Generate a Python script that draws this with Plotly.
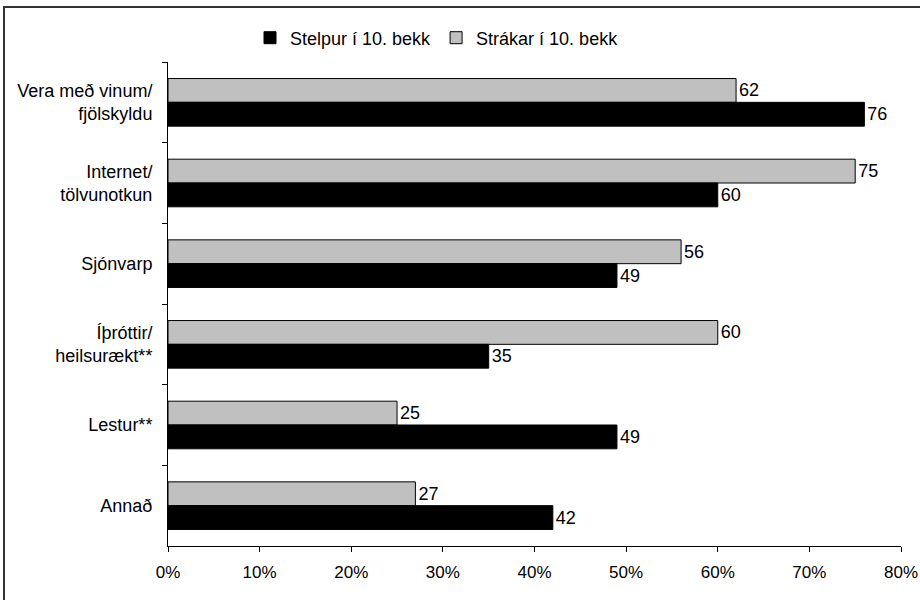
import plotly.graph_objects as go

# Survey categories (top to bottom) and percentages for each group
categories = [
    "Vera með vinum/<br>fjölskyldu",
    "Internet/<br>tölvunotkun",
    "Sjónvarp",
    "Íþróttir/<br>heilsurækt**",
    "Lestur**",
    "Annað",
]
strakar = [62, 75, 56, 60, 25, 27]   # Strákar í 10. bekk
stelpur = [76, 60, 49, 35, 49, 42]   # Stelpur í 10. bekk
x_ticks = [0, 10, 20, 30, 40, 50, 60, 70, 80]
x_tick_labels = [f"{v}%" for v in x_ticks]

FONT = "Liberation Sans, Arial, sans-serif"
FS = 18
W, H = 920, 600
ML, MR, MT, MB = 168, 19, 62, 54

fig = go.Figure()
fig.add_trace(go.Bar(
    name="Strákar í 10. bekk", y=categories, x=strakar, orientation="h",
    marker=dict(color="#C0C0C0", line=dict(color="#000000", width=1)),
    text=strakar, textposition="outside", cliponaxis=False, constraintext="none",
    textfont=dict(size=FS, color="#000000", family=FONT),
    legendrank=2,
))
fig.add_trace(go.Bar(
    name="Stelpur í 10. bekk", y=categories, x=stelpur, orientation="h",
    marker=dict(color="#000000", line=dict(color="#000000", width=1)),
    text=stelpur, textposition="outside", cliponaxis=False, constraintext="none",
    textfont=dict(size=FS, color="#000000", family=FONT),
    legendrank=1,
))

pw = W - ML - MR
ph = H - MT - MB
# outer frame of the chart area (right and bottom edges run past the page)
fig.add_shape(
    type="rect", xref="paper", yref="paper",
    x0=(4 - ML) / pw, x1=2.0,
    y0=-1.0, y1=1 + (MT - 7) / ph,
    line=dict(color="#333333", width=2), fillcolor="rgba(0,0,0,0)", layer="above",
)

fig.update_layout(
    width=W, height=H,
    margin=dict(l=ML, r=MR, t=MT, b=MB, autoexpand=False),
    paper_bgcolor="#FFFFFF", plot_bgcolor="#FFFFFF",
    font=dict(family=FONT, size=FS, color="#000000"),
    barmode="group", bargap=0.41, bargroupgap=0,
    showlegend=True,
    legend=dict(
        orientation="h", xref="container", yref="container",
        x=0.475, xanchor="center", y=1 - 38 / H, yanchor="middle",
        font=dict(size=FS, family=FONT),
        bgcolor="rgba(0,0,0,0)",
    ),
    xaxis=dict(
        range=[0, 80], tickvals=x_ticks, ticktext=x_tick_labels,
        showgrid=False, zeroline=False, showline=True, linecolor="#000000", linewidth=1,
        ticks="outside", ticklen=5, tickcolor="#000000",
        tickfont=dict(size=17, family=FONT), ticklabelstandoff=6,
        ticklabeloverflow="allow", automargin=False,
    ),
    yaxis=dict(
        categoryorder="array", categoryarray=categories, autorange="reversed",
        showgrid=False, zeroline=False, showline=True, linecolor="#000000", linewidth=1,
        ticks="outside", ticklen=5, tickcolor="#000000", tickson="boundaries",
        tickfont=dict(size=FS, family=FONT), ticklabelstandoff=11, automargin=False,
    ),
)

fig.write_html("out.html")
